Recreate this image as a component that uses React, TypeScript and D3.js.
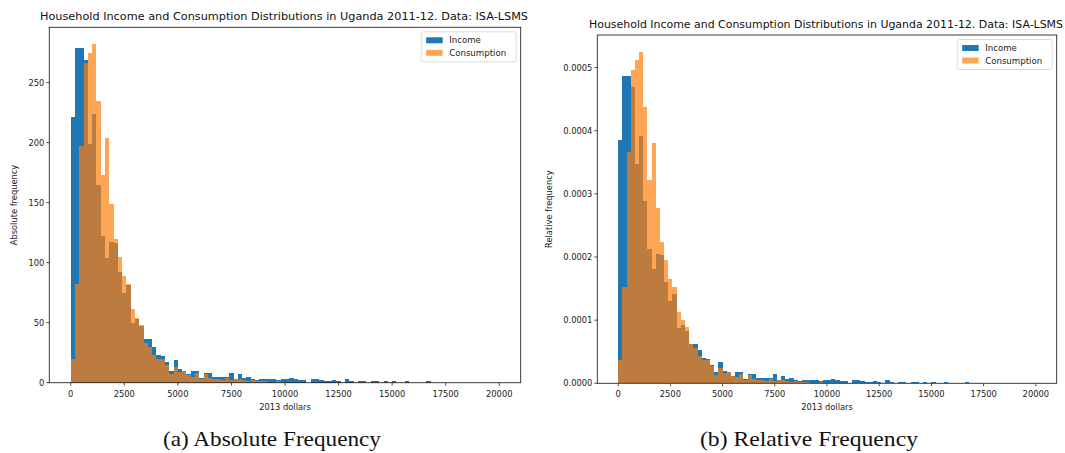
import React from 'react';
import * as d3 from 'd3';

// ---------- data ----------
const binStart = 0;
const binWidth = 200;
const binCount = 100;

const incomeCounts = [
  221, 279, 279, 269, 199, 224, 165, 122, 104, 117,
  116, 92, 75, 81, 50, 53, 47, 36, 36, 30,
  23, 22, 17, 10, 19, 11, 10, 7, 10, 10,
  4, 8, 8, 5, 5, 5, 5, 8, 3, 7,
  4, 5, 3, 2, 3, 3, 3, 3, 2, 3,
  3, 4, 3, 2, 2, 0, 3, 3, 2, 1,
  1, 2, 1, 0, 3, 1, 0, 1, 1, 0,
  1, 1, 0, 1, 0, 1, 0, 0, 1, 0,
  0, 0, 0, 1, 0, 0, 0, 0, 0, 0,
  0, 0, 0, 0, 0, 0, 0, 0, 0, 0,
];

const consumptionCounts = [
  20, 82, 197, 266, 275, 282, 235, 173, 204, 149,
  120, 105, 89, 82, 61, 54, 48, 33, 30, 23,
  20, 20, 15, 7, 13, 9, 10, 6, 5, 8,
  3, 7, 4, 3, 3, 2, 4, 2, 3, 3,
  2, 1, 2, 1, 1, 1, 0, 0, 1, 0,
  0, 0, 0, 0, 0, 0, 0, 0, 0, 0,
  0, 0, 0, 0, 0, 0, 0, 0, 0, 0,
  0, 0, 0, 0, 0, 0, 0, 0, 0, 0,
  0, 0, 0, 0, 0, 0, 0, 0, 0, 0,
  0, 0, 0, 0, 0, 0, 0, 0, 0, 0,
];

const seriesNames = ['Income', 'Consumption'];
const xTicks = [0, 2500, 5000, 7500, 10000, 12500, 15000, 17500, 20000];
const absTicks = [0, 50, 100, 150, 200, 250];
const relTicks = [0, 0.0001, 0.0002, 0.0003, 0.0004, 0.0005];
const titleText = 'Household Income and Consumption Distributions in Uganda 2011-12. Data: ISA-LSMS';
const xLabel = '2013 dollars';
const absLabel = 'Absolute frequency';
const relLabel = 'Relative frequency';
const captionA = '(a) Absolute Frequency';
const captionB = '(b) Relative Frequency';

// ---------- styles ----------
const BLUE = '#1f77b4';
const ORANGE = '#ff7f0e';
const ORANGE_ALPHA = 0.7;
const FONT = 'DejaVu Sans, sans-serif';
const SPINE = '#262626';

type Panel = {
  left: number; right: number; top: number; bottom: number;
  relative: boolean;
  yTicks: number[];
  yFmt: (v: number) => string;
  yLabel: string;
  yLabelX: number;
  caption: string;
  captionX: number;
  titleX0: number; titleX1: number; titleY: number;
};

function Histogram({ p }: { p: Panel }) {
  const edges = d3.range(binCount + 1).map((i) => binStart + i * binWidth);
  const lo = edges[0];
  const hi = edges[edges.length - 1];
  const pad = (hi - lo) * 0.05;
  const x = d3.scaleLinear().domain([lo - pad, hi + pad]).range([p.left, p.right]);

  const incTotal = d3.sum(incomeCounts);
  const conTotal = d3.sum(consumptionCounts);
  const inc = p.relative ? incomeCounts.map((c) => c / (incTotal * binWidth)) : incomeCounts;
  const con = p.relative ? consumptionCounts.map((c) => c / (conTotal * binWidth)) : consumptionCounts;
  const ymax = (d3.max([...inc, ...con]) as number) * 1.05;
  const y = d3.scaleLinear().domain([0, ymax]).range([p.bottom, p.top]);

  const bars = (vals: number[], color: string, opacity: number, key: string) =>
    vals.map((v, i) =>
      v > 0 ? (
        <rect
          key={key + i}
          x={x(edges[i])}
          width={x(edges[i + 1]) - x(edges[i])}
          y={y(v)}
          height={y(0) - y(v)}
          fill={color}
          fillOpacity={opacity}
          shapeRendering="crispEdges"
        />
      ) : null
    );

  const legW = 95;
  const legH = 30;
  const legX = p.right - 4.5 - legW;
  const legY = p.top + 4.5;

  return (
    <g>
      <text
        x={(p.titleX0 + p.titleX1) / 2}
        y={p.titleY}
        textAnchor="middle"
        fontFamily={FONT}
        fontSize={10.2}
        fill="#111"
        textLength={p.titleX1 - p.titleX0}
        lengthAdjust="spacingAndGlyphs"
      >
        {titleText}
      </text>
      {bars(inc, BLUE, 1, 'i')}
      {bars(con, ORANGE, ORANGE_ALPHA, 'c')}
      <rect x={p.left} y={p.top} width={p.right - p.left} height={p.bottom - p.top} fill="none" stroke={SPINE} strokeWidth={0.9} />
      {xTicks.map((t) => (
        <g key={'xt' + t}>
          <line x1={x(t)} x2={x(t)} y1={p.bottom} y2={p.bottom + 3} stroke={SPINE} strokeWidth={0.8} />
          <text x={x(t)} y={p.bottom + 14} textAnchor="middle" fontFamily={FONT} fontSize={8.3} fill="#222">
            {t}
          </text>
        </g>
      ))}
      {p.yTicks.map((t) => (
        <g key={'yt' + t}>
          <line x1={p.left - 3} x2={p.left} y1={y(t)} y2={y(t)} stroke={SPINE} strokeWidth={0.8} />
          <text x={p.left - 5} y={y(t) + 3} textAnchor="end" fontFamily={FONT} fontSize={8.3} fill="#222">
            {p.yFmt(t)}
          </text>
        </g>
      ))}
      <text x={(p.left + p.right) / 2} y={p.bottom + 27} textAnchor="middle" fontFamily={FONT} fontSize={8.3} fill="#222">
        {xLabel}
      </text>
      <text
        transform={`translate(${p.yLabelX},${(p.top + p.bottom) / 2}) rotate(-90)`}
        textAnchor="middle"
        fontFamily={FONT}
        fontSize={8.3}
        fill="#222"
      >
        {p.yLabel}
      </text>
      <g>
        <rect x={legX} y={legY} width={legW} height={legH} rx={2} fill="#fff" fillOpacity={0.8} stroke="#d0d0d0" strokeWidth={0.8} />
        {seriesNames.map((name, k) => (
          <g key={name}>
            <rect
              x={legX + 5}
              y={legY + 5.5 + k * 12.5}
              width={16.5}
              height={6}
              fill={k === 0 ? BLUE : ORANGE}
              fillOpacity={k === 0 ? 1 : ORANGE_ALPHA}
            />
            <text x={legX + 28} y={legY + 11.5 + k * 12.5} fontFamily={FONT} fontSize={8.6} fill="#222">
              {name}
            </text>
          </g>
        ))}
      </g>
      <text
        x={p.captionX}
        y={446}
        textAnchor="middle"
        fontFamily="Liberation Serif, DejaVu Serif, serif"
        fontSize={21}
        fill="#111"
        textLength={218}
        lengthAdjust="spacingAndGlyphs"
      >
        {p.caption}
      </text>
    </g>
  );
}

export default function App() {
  const panels: Panel[] = [
    {
      left: 49.3, right: 520.7, top: 27.3, bottom: 382.7,
      relative: false,
      yTicks: absTicks,
      yFmt: (v) => String(v),
      yLabel: absLabel,
      yLabelX: 17,
      caption: captionA,
      captionX: 272,
      titleX0: 40, titleX1: 528, titleY: 20,
    },
    {
      left: 597.3, right: 1056.7, top: 35, bottom: 383.3,
      relative: true,
      yTicks: relTicks,
      yFmt: (v) => v.toFixed(4),
      yLabel: relLabel,
      yLabelX: 552,
      caption: captionB,
      captionX: 809,
      titleX0: 589, titleX1: 1063, titleY: 28,
    },
  ];
  return (
    <div style={{ position: 'absolute', left: 0, top: 0 }}>
      <svg width={1065} height={453} style={{ display: 'block', background: '#fff' }}>
        {panels.map((p, i) => (
          <Histogram key={i} p={p} />
        ))}
      </svg>
    </div>
  );
}
